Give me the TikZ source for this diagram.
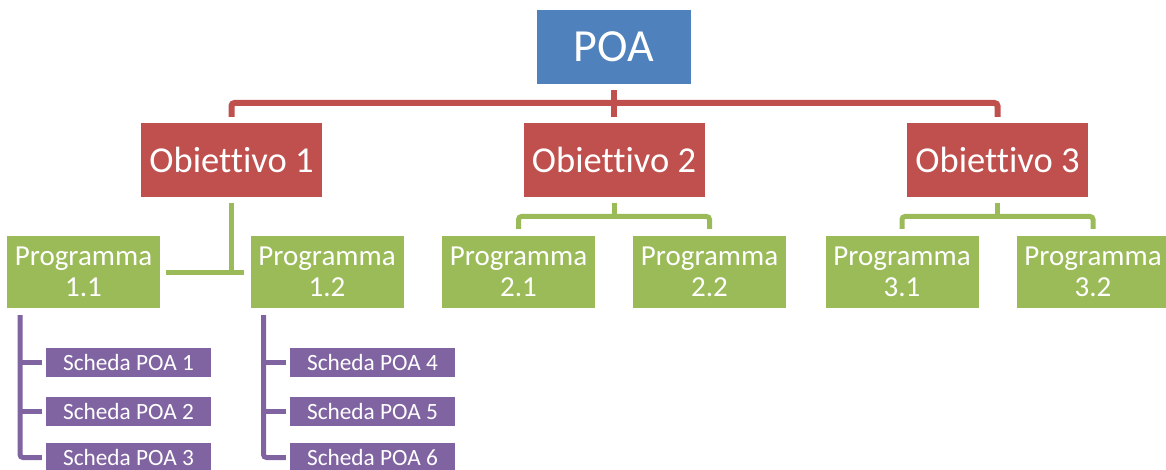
\documentclass[tikz,border=0pt]{standalone}
\usepackage{fontspec}
\setmainfont{Carlito}[Ligatures={NoCommon}]
\usetikzlibrary{calc}
\definecolor{cblue}{HTML}{4F81BD}
\definecolor{cred}{HTML}{C0504D}
\definecolor{cgreen}{HTML}{9BBB59}
\definecolor{cpurple}{HTML}{8064A2}
\begin{document}
\begin{tikzpicture}[x=1pt,y=-1pt,
  box/.style={draw=none, inner sep=0pt, text=white, align=center},
  poabox/.style={box, fill=cblue, minimum width=154pt, minimum height=74pt, font=\fontsize{46}{50}\selectfont},
  objbox/.style={box, fill=cred, minimum width=181pt, minimum height=74pt, font=\fontsize{36.5}{40}\selectfont},
  progbox/.style={box, fill=cgreen, minimum width=153pt, minimum height=72pt, font=\fontsize{29}{31}\selectfont},
  schbox/.style={box, fill=cpurple, minimum width=165pt, minimum height=29pt, font=\fontsize{23.3}{25}\selectfont},
  redc/.style={draw=cred, line width=6pt, rounded corners=3pt},
  greenc/.style={draw=cgreen, line width=5pt, rounded corners=3pt},
  purc/.style={draw=cpurple, line width=5pt, rounded corners=3pt}]
\clip (0,0) rectangle (1166,470);
\useasboundingbox (0,0) rectangle (1166,470);
% nodes
\node[poabox] (poa) at (614,47) {POA};
\node[objbox] (o1) at (231.5,160) {Obiettivo 1};
\node[objbox] (o2) at (614,160) {Obiettivo 2};
\node[objbox] (o3) at (997.5,160) {Obiettivo 3};
\node[progbox] (p11) at (83.5,272) {Programma\\1.1};
\node[progbox] (p12) at (327,272) {Programma\\1.2};
\node[progbox] (p21) at (518.5,272) {Programma\\2.1};
\node[progbox] (p22) at (709.5,272) {Programma\\2.2};
\node[progbox] (p31) at (902,272) {Programma\\3.1};
\node[progbox] (p32) at (1093,272) {Programma\\3.2};
\node[schbox] (s1) at (128.5,362.5) {Scheda POA 1};
\node[schbox] (s2) at (128.5,411) {Scheda POA 2};
\node[schbox] (s3) at (128.5,457.5) {Scheda POA 3};
\node[schbox] (s4) at (372.5,362.5) {Scheda POA 4};
\node[schbox] (s5) at (372.5,411) {Scheda POA 5};
\node[schbox] (s6) at (372.5,457.5) {Scheda POA 6};
% red connectors
\coordinate (rbar) at (614,103);
\draw[redc] ([yshift=-6pt]poa.south) -- ([yshift=6pt]o2.north);
\draw[redc] ([yshift=6pt]o1.north) |- (rbar) -| ([yshift=6pt]o3.north);
% green connectors
\draw[greenc] ([yshift=-6pt]o1.south) -- (o1.south |- p11.east);
\draw[greenc] ([xshift=6pt]p11.east) -- ([xshift=-6pt]p12.west);
\coordinate (g2) at (614,216.5);
\coordinate (g3) at (997.5,216.5);
\draw[greenc] ([yshift=-6pt]o2.south) -- (g2);
\draw[greenc] ([yshift=7pt]p21.north) |- (g2) -| ([yshift=7pt]p22.north);
\draw[greenc] ([yshift=-6pt]o3.south) -- (g3);
\draw[greenc] ([yshift=7pt]p31.north) |- (g3) -| ([yshift=7pt]p32.north);
% purple connectors
\coordinate (t1) at (20,315);
\coordinate (t2) at (263.5,315);
\draw[purc] (t1) |- ([xshift=-4pt]s3.west);
\draw[purc] (t1 |- s1.west) -- ([xshift=-4pt]s1.west);
\draw[purc] (t1 |- s2.west) -- ([xshift=-4pt]s2.west);
\draw[purc] (t2) |- ([xshift=-4pt]s6.west);
\draw[purc] (t2 |- s4.west) -- ([xshift=-4pt]s4.west);
\draw[purc] (t2 |- s5.west) -- ([xshift=-4pt]s5.west);
\end{tikzpicture}
\end{document}
